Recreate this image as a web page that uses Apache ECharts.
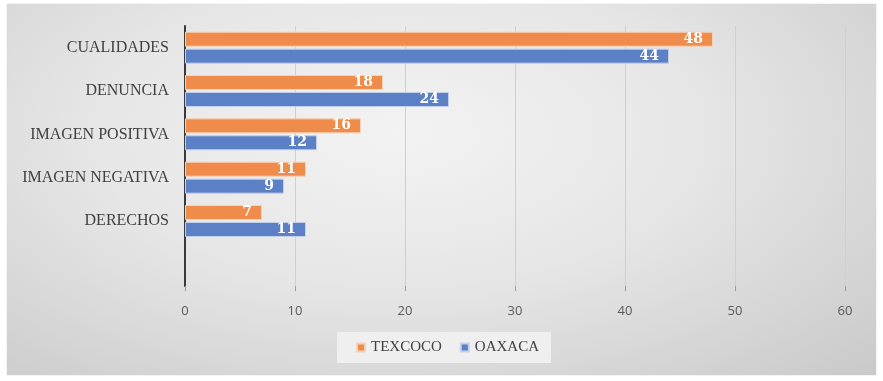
<!DOCTYPE html>
<html>
<head>
<meta charset="utf-8">
<script src="https://cdn.jsdelivr.net/npm/echarts@6/dist/echarts.min.js"></script>
<style>
html,body{margin:0;padding:0;background:#fff;width:883px;height:381px;overflow:hidden;}
#bg{position:absolute;left:7px;top:4px;width:869px;height:371px;
background:radial-gradient(ellipse at 45% 35%, #f3f3f3 0%, #e6e6e6 45%, #c9c9c9 100%);
box-shadow:0 0 1px #bbb;}
#main{position:absolute;left:0;top:0;width:883px;height:381px;}
</style>
</head>
<body>
<div id="bg"></div>
<div id="main"></div>
<script>
const categories = ['CUALIDADES', 'DENUNCIA', 'IMAGEN POSITIVA', 'IMAGEN NEGATIVA', 'DERECHOS', ''];
const texcoco = [48, 18, 16, 11, 7, null];
const oaxaca = [44, 24, 12, 9, 11, null];
const xTicks = {min: 0, max: 60, interval: 10};

const chart = echarts.init(document.getElementById('main'), null, {renderer: 'canvas'});
const serif = 'Liberation Serif';
const labelStyle = {
  show: true, position: 'insideRight', color: '#ffffff', fontFamily: 'DejaVu Serif',
  fontWeight: 'bold', fontSize: 14, distance: 10
};
chart.setOption({
  backgroundColor: 'transparent',
  animation: false,
  grid: {left: 185, right: 38, top: 26, bottom: 95, containLabel: false},
  xAxis: {
    type: 'value', min: xTicks.min, max: xTicks.max, interval: xTicks.interval,
    axisLine: {show: false},
    axisTick: {show: true, length: 5, lineStyle: {color: '#9a9a9a'}},
    axisLabel: {color: '#595959', fontFamily: 'Open Sans', fontSize: 13, margin: 19},
    splitLine: {show: true, lineStyle: {color: '#cfcfcf', width: 1}}
  },
  yAxis: {
    type: 'category', data: categories, inverse: true,
    axisLine: {show: true, lineStyle: {color: '#3a3a3a', width: 2}},
    axisTick: {show: false},
    axisLabel: {color: '#404040', fontFamily: serif, fontSize: 16, margin: 16}
  },
  legend: {
    top: 332, left: 337,
    itemWidth: 8, itemHeight: 8, itemGap: 18,
    icon: 'rect',
    backgroundColor: '#efefef',
    padding: [8, 12, 8, 19],
    textStyle: {color: '#404040', fontFamily: serif, fontSize: 15, padding: [0, 0, 0, 1]},
    data: ['TEXCOCO', 'OAXACA']
  },
  series: [
    {
      name: 'TEXCOCO', type: 'bar', data: texcoco, barWidth: 15, barGap: '13%',
      itemStyle: {color: '#ef8c4b', borderColor: '#f6d3b8', borderWidth: 1},
      label: labelStyle
    },
    {
      name: 'OAXACA', type: 'bar', data: oaxaca, barWidth: 15, barGap: '13%',
      itemStyle: {color: '#5b80c6', borderColor: '#c3d0ea', borderWidth: 1},
      label: labelStyle
    }
  ]
});
</script>
</body>
</html>
